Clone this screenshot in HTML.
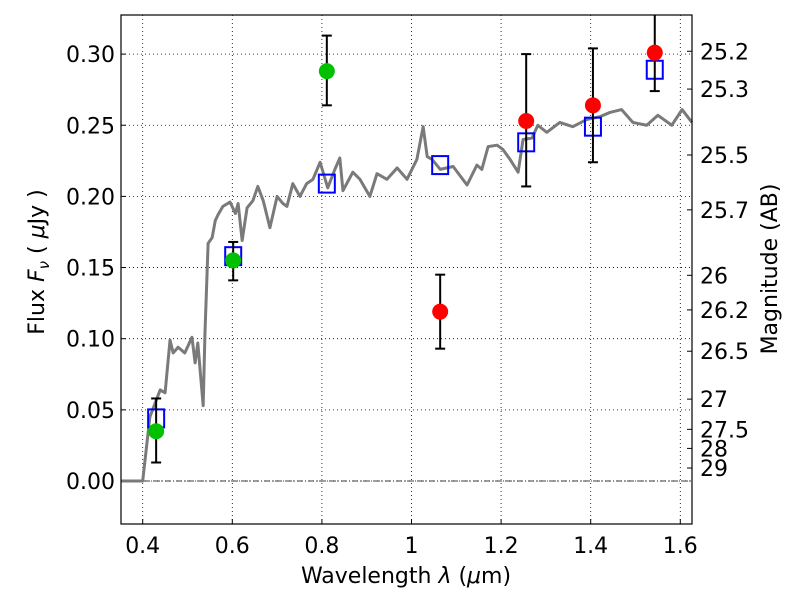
<!DOCTYPE html>
<html><head><meta charset="utf-8"><style>
body{margin:0;background:#fff}
svg text{font-family:"DejaVu Sans","Liberation Sans",sans-serif;fill:#000}
</style></head><body>
<svg id="c" width="800" height="600" xmlns="http://www.w3.org/2000/svg"></svg>
<script>
const specLam=[0.352,0.400,0.416,0.439,0.450,0.461,0.468,0.479,0.494,0.510,0.517,0.523,0.535,0.539,0.546,0.555,0.562,0.568,0.579,0.595,0.607,0.613,0.622,0.633,0.646,0.657,0.669,0.684,0.700,0.713,0.722,0.735,0.751,0.766,0.780,0.796,0.813,0.829,0.840,0.847,0.869,0.885,0.907,0.923,0.945,0.968,0.990,1.012,1.026,1.035,1.046,1.064,1.093,1.124,1.146,1.157,1.171,1.191,1.204,1.220,1.238,1.249,1.269,1.282,1.302,1.331,1.360,1.391,1.420,1.443,1.469,1.494,1.525,1.550,1.581,1.604,1.626];
const specFlux=[0,0,0.045,0.064,0.062,0.099,0.090,0.094,0.090,0.101,0.083,0.097,0.053,0.104,0.167,0.171,0.183,0.187,0.193,0.196,0.188,0.195,0.169,0.192,0.197,0.207,0.197,0.178,0.200,0.195,0.193,0.209,0.200,0.209,0.212,0.224,0.206,0.219,0.227,0.204,0.217,0.212,0.200,0.216,0.212,0.220,0.212,0.226,0.249,0.228,0.226,0.219,0.221,0.208,0.222,0.219,0.235,0.236,0.233,0.226,0.217,0.240,0.241,0.250,0.245,0.252,0.249,0.254,0.256,0.259,0.261,0.252,0.250,0.257,0.250,0.261,0.252];
const modelLam=[0.430,0.602,0.811,1.064,1.256,1.405,1.543];
const modelFlux=[0.044,0.158,0.209,0.222,0.238,0.249,0.289];
const greenLam=[0.430,0.602,0.811];
const greenFlux=[0.035,0.155,0.288];
const redLam=[1.064,1.256,1.405,1.543];
const redFlux=[0.119,0.253,0.264,0.301];
const errLam=[0.430,0.602,0.811,1.064,1.256,1.405,1.543];
const errHi=[0.058,0.168,0.313,0.145,0.300,0.304,0.328];
const errLo=[0.013,0.141,0.264,0.093,0.207,0.224,0.274];
const xTicks=[0.4,0.6,0.8,1.0,1.2,1.4,1.6];
const xTickLabels=["0.4","0.6","0.8","1","1.2","1.4","1.6"];
const yTicks=[0,0.05,0.10,0.15,0.20,0.25,0.30];
const yTickLabels=["0.00","0.05","0.10","0.15","0.20","0.25","0.30"];
const magTicks=[25.2,25.3,25.5,25.7,26,26.2,26.5,27,27.5,28,29];
const magLabels=["25.2","25.3","25.5","25.7","26","26.2","26.5","27","27.5","28","29"];

const L=121,R=692,T=15,B=524;
const X=v=>142.7+(v-0.4)*448;
const Y=v=>481-v*1423;
const svg=document.getElementById('c');
const NS="http://www.w3.org/2000/svg";
function mk(tag,attrs,parent){const e=document.createElementNS(NS,tag);for(const k in attrs)e.setAttribute(k,attrs[k]);(parent||svg).appendChild(e);return e;}

xTicks.forEach((t,i)=>{
  const g=mk('line',{x1:X(t),x2:X(t),y1:T,y2:B,stroke:'#000','stroke-width':0.8,'stroke-dasharray':'1,3'});
  
  
  const tk=mk('line',{x1:X(t),x2:X(t),y1:B,y2:B-5,stroke:'#000'});
  
  
  const tx=mk('text',{x:X(t),y:B+29,'font-size':22,'text-anchor':'middle'});tx.textContent=xTickLabels[i];
  
  
});
yTicks.forEach((t,i)=>{
  const g=mk('line',{x1:L,x2:R,y1:Y(t),y2:Y(t),stroke:'#000','stroke-width':0.8,'stroke-dasharray':'1,3'});
  
  
  const tk=mk('line',{x1:L,x2:L+5,y1:Y(t),y2:Y(t),stroke:'#000'});
  
  
  const tx=mk('text',{x:L-6,y:Y(t)+8,'font-size':22,'text-anchor':'end'});tx.textContent=yTickLabels[i];
  
  
});
magTicks.forEach((m,i)=>{
  const f=Math.pow(10,(23.9-m)/2.5);
  const tk=mk('line',{x1:R-5,x2:R,y1:Y(f),y2:Y(f),stroke:'#000'});
  
  
  const tx=mk('text',{x:R+8,y:Y(f)+8,'font-size':22});tx.textContent=magLabels[i];
  
  
});
const z=mk('line',{x1:L,x2:R,y1:Y(0),y2:Y(0),stroke:'#000','stroke-width':0.8,'stroke-dasharray':'6,2,1,2'});



const p=mk('polyline',{points:specLam.map((l,i)=>X(l)+','+Y(specFlux[i])).join(' '),fill:'none',stroke:'#7a7a7a','stroke-width':3,'stroke-linejoin':'round'});



modelLam.forEach((l,i)=>{
  const r=mk('rect',{x:X(l)-8,y:Y(modelFlux[i])-9,width:16,height:18,fill:'none',stroke:'#0000ff','stroke-width':2});
  
  
});
errLam.forEach((l,i)=>{
  const g=mk('g',{stroke:'#000','stroke-width':2});
  
  
  const yh=Math.max(Y(errHi[i]),T);
  mk('line',{x1:X(l),x2:X(l),y1:yh,y2:Y(errLo[i])},g);
  if(Y(errHi[i])>=T) mk('line',{x1:X(l)-5,x2:X(l)+5,y1:yh,y2:yh},g);
  mk('line',{x1:X(l)-5,x2:X(l)+5,y1:Y(errLo[i]),y2:Y(errLo[i])},g);
});
greenLam.forEach((l,i)=>{
  const c=mk('circle',{cx:X(l),cy:Y(greenFlux[i]),r:8,fill:'#00c000'});
  
  
});
redLam.forEach((l,i)=>{
  const c=mk('circle',{cx:X(l),cy:Y(redFlux[i]),r:8,fill:'#ff0000'});
  
  
});
const fr=mk('rect',{x:L,y:T,width:R-L,height:B-T,fill:'none',stroke:'#000','stroke-width':1.2});


const xl=mk('text',{x:406,y:583,'font-size':22,'text-anchor':'middle'});
xl.innerHTML='Wavelength  <tspan font-style="italic">λ</tspan> (<tspan font-style="italic">μ</tspan>m)';


const yl=mk('text',{x:0,y:0,'font-size':22,'text-anchor':'middle',transform:'translate(44,262) rotate(-90)'});
yl.innerHTML='Flux  <tspan font-style="italic">F</tspan><tspan font-style="italic" font-size="15" dy="5">ν</tspan><tspan dy="-5">  ( </tspan><tspan font-style="italic">μ</tspan>Jy )';


const rl=mk('text',{x:0,y:0,'font-size':22,'text-anchor':'middle',transform:'translate(777,269) rotate(-90)'});
rl.textContent='Magnitude (AB)';


</script>
</body></html>
